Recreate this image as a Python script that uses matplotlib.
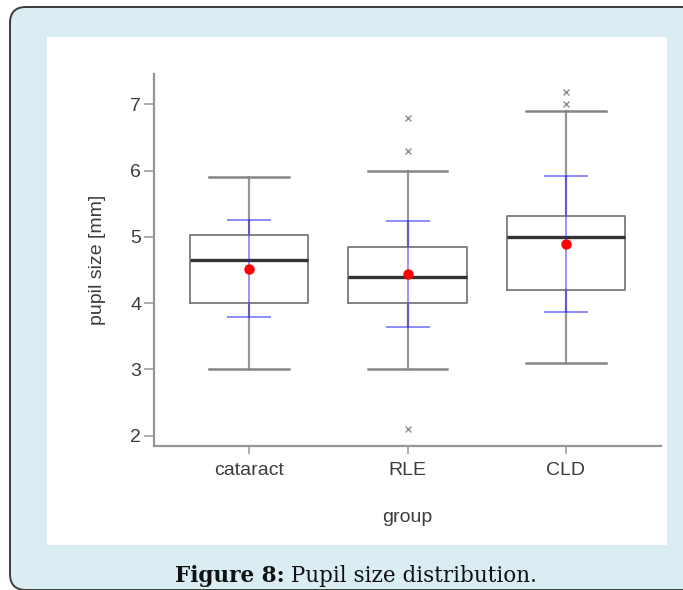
import matplotlib.pyplot as plt
from matplotlib.patches import FancyBboxPatch, Rectangle

groups = ["cataract", "RLE", "CLD"]
whis_lo = [3.0, 3.0, 3.1]
q1 = [4.0, 4.0, 4.2]
medians = [4.65, 4.39, 5.0]
q3 = [5.03, 4.85, 5.31]
whis_hi = [5.9, 6.0, 6.9]
fliers = [[], [6.8, 6.3, 2.1], [7.19, 7.0]]
means = [4.52, 4.44, 4.89]
sds = [0.73, 0.80, 1.03]
yticks = [2, 3, 4, 5, 6, 7]

W, H = 683, 590
fig = plt.figure(figsize=(W / 100, H / 100), dpi=100)
fig.patch.set_facecolor("white")

# background frame drawn in pixel coordinates
bg = fig.add_axes([0, 0, 1, 1], zorder=0)
bg.set_xlim(0, W)
bg.set_ylim(H, 0)
bg.axis("off")
bg.add_patch(FancyBboxPatch((10, 7), 720, 583, boxstyle="round,pad=0,rounding_size=16",
                            facecolor="#d9edf2", edgecolor="#3c3c3c", lw=1.4))
bg.add_patch(Rectangle((47, 37), 620, 508, facecolor="white", edgecolor="none"))

left, right, top, bottom = 154, 661, 74, 445.7
ax = fig.add_axes([left / W, 1 - bottom / H, (right - left) / W, (bottom - top) / H], zorder=1)
ax.patch.set_alpha(0)

pos = [1, 2, 3]
stats = []
for i, g in enumerate(groups):
    stats.append(dict(label=g, whislo=whis_lo[i], q1=q1[i], med=medians[i],
                      q3=q3[i], whishi=whis_hi[i], fliers=fliers[i]))

ax.bxp(stats, positions=pos, widths=0.745, capwidths=0.5, showfliers=True,
       boxprops=dict(color="#7a7a7a", lw=1.3),
       whiskerprops=dict(color="#959595", lw=1.6),
       capprops=dict(color="#858585", lw=1.8),
       medianprops=dict(color="#333333", lw=2.4),
       flierprops=dict(marker="x", markersize=4, markeredgecolor="#909090", markeredgewidth=1.0))

ax.errorbar(pos, means, yerr=sds, fmt="none", ecolor=(0.1, 0.1, 1.0, 0.5),
            elinewidth=1.3, capsize=16, capthick=1.4, zorder=3)
ax.plot(pos, means, "o", color="red", ms=6.5, zorder=4)

ax.set_xlim(0.4, 3.6)
ax.set_ylim(1.85, 7.457)
ax.set_yticks(yticks)
ax.set_xticks(pos)
ax.set_xticklabels(groups)

for s in ["top", "right"]:
    ax.spines[s].set_visible(False)
for s in ["left", "bottom"]:
    ax.spines[s].set_color("#959595")
    ax.spines[s].set_linewidth(1.6)
ax.tick_params(colors="#a0a0a0", width=1.2, labelcolor="#3d3d3d", labelsize=14)
ax.tick_params(axis="y", length=7.2, pad=2)
ax.tick_params(axis="x", length=5.8, pad=6)
for t in ax.get_xticklabels() + ax.get_yticklabels():
    t.set_fontfamily("Liberation Sans")

ax.set_ylabel("pupil size [mm]", family="Liberation Sans", fontsize=14, color="#3d3d3d", va="center")
ax.yaxis.set_label_coords((97 - left) / (right - left), 0.5)
ax.set_xlabel("group", family="Liberation Sans", fontsize=14, color="#3d3d3d", va="center")
ax.xaxis.set_label_coords(0.5, -(518 - bottom) / (bottom - top))

# caption: bold part + regular part, centred together
t1 = bg.text(0, 576, "Figure 8:", family="DejaVu Serif", weight="bold", fontsize=15.5,
             va="center", ha="left", color="#111111")
t2 = bg.text(0, 576, " Pupil size distribution.", family="DejaVu Serif", fontsize=15.5,
             va="center", ha="left", color="#111111")
fig.canvas.draw()
r = fig.canvas.get_renderer()
w1 = t1.get_window_extent(r).width
w2 = t2.get_window_extent(r).width
x0 = 356 - (w1 + w2) / 2
t1.set_x(x0)
t2.set_x(x0 + w1)

fig.savefig("out.png", dpi=100)
